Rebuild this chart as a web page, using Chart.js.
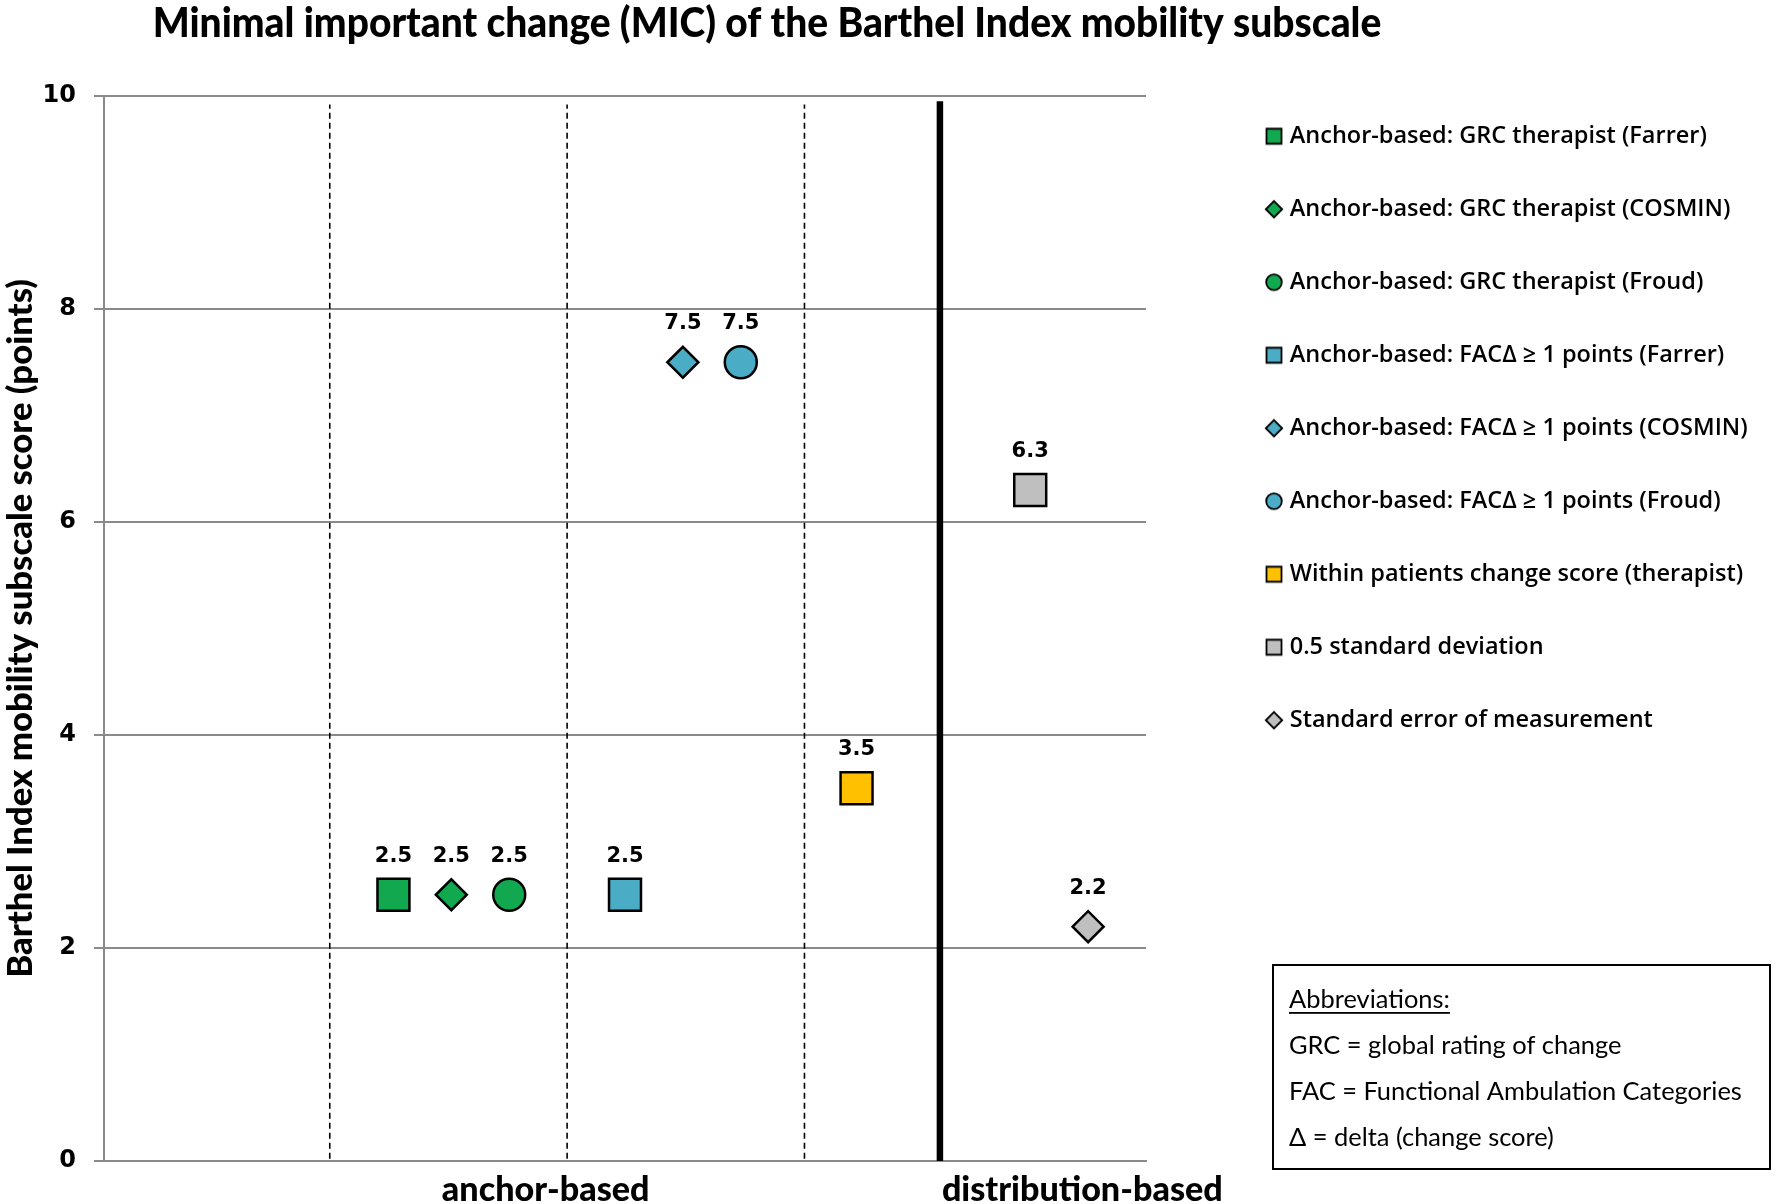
<!DOCTYPE html>
<html><head><meta charset="utf-8">
<script src="https://cdn.jsdelivr.net/npm/chart.js@4/dist/chart.umd.min.js"></script>
<style>html,body{margin:0;padding:0;background:#fff}#wrap{width:1776px;height:1204px;position:relative}</style>
</head><body><div id="wrap"><canvas id="c"></canvas></div>
<script>
// ---------- data ----------
const chartTitle = 'Minimal important change (MIC) of the Barthel Index mobility subscale';
const yAxisTitle = 'Barthel Index mobility subscale score (points)';
const seriesNames = [
  'Anchor-based: GRC therapist (Farrer)',
  'Anchor-based: GRC therapist (COSMIN)',
  'Anchor-based: GRC therapist (Froud)',
  'Anchor-based: FACΔ ≥ 1 points (Farrer)',
  'Anchor-based: FACΔ ≥ 1 points (COSMIN)',
  'Anchor-based: FACΔ ≥ 1 points (Froud)',
  'Within patients change score (therapist)',
  '0.5 standard deviation',
  'Standard error of measurement'
];
const seriesX = [5, 6, 7, 9, 10, 11, 13, 16, 17];
const micValues = [2.5, 2.5, 2.5, 2.5, 7.5, 7.5, 3.5, 6.3, 2.2];
const seriesShapes = ['rect', 'rectRot', 'circle', 'rect', 'rectRot', 'circle', 'rect', 'rect', 'rectRot'];
const seriesColors = ['#12A84F', '#12A84F', '#12A84F', '#4BACC6', '#4BACC6', '#4BACC6', '#FFC000', '#BFBFBF', '#BFBFBF'];
const groupLabels = ['anchor-based', 'distribution-based'];
const groupLabelX = [7.63, 16.9];
const dashedDividerX = [3.9, 8.0, 12.1];
const groupDividerX = [14.44];
const abbrevTitle = 'Abbreviations:';
const abbreviations = ['GRC = global rating of change', 'FAC = Functional Ambulation Categories', 'Δ = delta (change score)'];

// ---------- styling ----------
const CONDENSED = 'Lato, "Liberation Sans", sans-serif';
const HEAVY = '900';
const BODY = 'Lato, "Open Sans", sans-serif';
const LEGEND = '"Open Sans", Lato, sans-serif';
const WIDE = '"DejaVu Sans", sans-serif';
const GRID = '#8a8a8a';
const markerRadius = { rect: 22.6, rectRot: 15.5, circle: 16 };

const mctx = document.createElement('canvas').getContext('2d');
function fitSize(text, weight, family, target) {
  mctx.font = weight + ' 100px ' + family;
  return 100 * target / mctx.measureText(text).width;
}
function textW(text, font) { mctx.font = font; return mctx.measureText(text).width; }

const titleSize = fitSize(chartTitle, HEAVY, CONDENSED, 1229);
const yTitleSize = fitSize(yAxisTitle, HEAVY, CONDENSED, 699);
const groupSize = fitSize('distribution-based', HEAVY, CONDENSED, 281);
const legendSize = Math.round(fitSize(seriesNames[4], '600', LEGEND, 458) * 10) / 10;
const abbrSize = fitSize(abbreviations[1], 'normal', BODY, 453);
const legendPad = 73 - legendSize;
const pointStyleW = 8;

// legend horizontal placement
const legendLeft = 1274 - legendPad - pointStyleW / 2;
const maxLegendText = Math.max(...seriesNames.map(s => textW(s, '600 ' + legendSize + 'px ' + LEGEND)));
const legendWidth = legendPad + pointStyleW + legendSize / 2 + maxLegendText + 10;
const padRight = 1776 - legendLeft - legendWidth;
const gapRight = legendLeft - 1146;

function makeIcon(style, fill) {
  const s = 20, c = document.createElement('canvas');
  c.width = s; c.height = s;
  const g = c.getContext('2d');
  g.fillStyle = fill; g.strokeStyle = '#000'; g.lineWidth = 1.8;
  g.beginPath();
  if (style === 'rect') g.rect(2.5, 2.5, 15, 15);
  else if (style === 'rectRot') { g.moveTo(10, 1.8); g.lineTo(18.2, 10); g.lineTo(10, 18.2); g.lineTo(1.8, 10); g.closePath(); }
  else g.arc(10, 10, 7.8, 0, Math.PI * 2);
  g.fill(); g.stroke();
  return c;
}

const pointDatasets = seriesNames.map((name, i) => ({
  label: name,
  data: [{ x: seriesX[i], y: micValues[i] }],
  pointStyle: seriesShapes[i],
  pointBackgroundColor: seriesColors[i],
  backgroundColor: seriesColors[i],
  pointBorderColor: '#000',
  borderColor: '#000',
  pointBorderWidth: 2.5,
  pointRadius: markerRadius[seriesShapes[i]],
  pointHoverRadius: markerRadius[seriesShapes[i]],
  order: 0
}));
const dividerDatasets = dashedDividerX.map(x => ({
  label: '', isDivider: true,
  data: [{ x: x, y: 0.02 }, { x: x, y: 9.92 }],
  showLine: true, borderColor: '#000', borderWidth: 1.6, borderDash: [6, 4],
  pointRadius: 0, pointHoverRadius: 0, order: 1
})).concat(groupDividerX.map(x => ({
  label: '', isDivider: true,
  data: [{ x: x, y: 0 }, { x: x, y: 9.95 }],
  showLine: true, borderColor: '#000', borderWidth: 6.5,
  pointRadius: 0, pointHoverRadius: 0, order: 1
})));

const decorPlugin = {
  id: 'decor',
  afterDraw(chart) {
    const ctx = chart.ctx;
    ctx.save();
    ctx.fillStyle = '#000';
    ctx.font = HEAVY + ' ' + titleSize + 'px ' + CONDENSED;
    ctx.textAlign = 'center';
    ctx.textBaseline = 'alphabetic';
    ctx.save();
    ctx.translate(767, 37);
    ctx.scale(1, 1.08);
    ctx.fillText(chartTitle, 0, 0);
    ctx.restore();
    // data labels
    ctx.font = 'bold 21px ' + WIDE;
    chart.data.datasets.forEach((ds, i) => {
      if (ds.isDivider) return;
      const el = chart.getDatasetMeta(i).data[0];
      ctx.fillText(ds.data[0].y.toFixed(1), el.x, el.y - 33);
    });
    // abbreviations box
    ctx.lineWidth = 2;
    ctx.strokeStyle = '#000';
    ctx.strokeRect(1273, 965, 497, 204);
    ctx.textAlign = 'left';
    ctx.textBaseline = 'middle';
    ctx.font = 'normal ' + abbrSize + 'px ' + BODY;
    ctx.fillText(abbrevTitle, 1289, 1000);
    const uw = ctx.measureText(abbrevTitle).width;
    ctx.fillRect(1289, 1012, uw, 1.8);
    abbreviations.forEach((t, k) => ctx.fillText(t, 1289, 1046 + k * 46));
    ctx.restore();
  }
};

new Chart(document.getElementById('c'), {
  type: 'scatter',
  data: { datasets: pointDatasets.concat(dividerDatasets) },
  options: {
    responsive: true,
    maintainAspectRatio: false,
    animation: false,
    layout: { padding: { top: 75, left: 0, right: padRight, bottom: 0 } },
    plugins: {
      title: { display: false },
      tooltip: { enabled: false },
      legend: {
        position: 'right',
        align: 'start',
        maxWidth: 900,
        labels: {
          usePointStyle: true,
          pointStyleWidth: pointStyleW,
          padding: legendPad,
          color: '#000',
          font: { family: LEGEND, size: legendSize, weight: '600' },
          filter: item => !!pointDatasets[item.datasetIndex],
          generateLabels: chart => Chart.defaults.plugins.legend.labels.generateLabels(chart).map(l => {
            const i = l.datasetIndex;
            if (i < seriesNames.length) l.pointStyle = makeIcon(seriesShapes[i], seriesColors[i]);
            return l;
          })
        }
      }
    },
    scales: {
      x: {
        type: 'linear', position: 'bottom', min: 0, max: 18,
        grid: { display: false, drawTicks: false },
        border: { display: true, color: GRID, width: 2 },
        afterBuildTicks: s => { s.ticks = groupLabelX.map(v => ({ value: v })); },
        ticks: {
          autoSkip: false, maxRotation: 0, minRotation: 0, padding: 10, color: '#000',
          font: { family: CONDENSED, size: groupSize, weight: HEAVY, lineHeight: 1.1 },
          callback: (v, i) => groupLabels[i]
        },
        afterFit: s => { s.height = 43; }
      },
      xT: {
        type: 'linear', position: 'top', min: 0, max: 18, display: true,
        grid: { display: false, drawTicks: false }, border: { display: false },
        ticks: { display: false },
        afterFit: s => { s.height = 21; }
      },
      y: {
        type: 'linear', position: 'left', min: 0, max: 10,
        ticks: { stepSize: 2, padding: 18, color: '#000', font: { family: WIDE, size: 24, weight: 'bold' } },
        grid: { color: GRID, lineWidth: 2, tickLength: 10, drawTicks: true },
        border: { display: true, color: GRID, width: 2 },
        title: {
          display: true, text: yAxisTitle, color: '#000',
          font: { family: CONDENSED, size: yTitleSize, weight: HEAVY },
          padding: { top: 0, bottom: 0 }
        },
        afterFit: s => { s.width = 104; }
      },
      yR: {
        type: 'linear', position: 'right', min: 0, max: 10, display: true,
        grid: { display: false, drawTicks: false }, border: { display: false },
        ticks: { display: false },
        afterFit: s => { s.width = gapRight; }
      }
    }
  },
  plugins: [decorPlugin]
});
</script>
</body></html>
